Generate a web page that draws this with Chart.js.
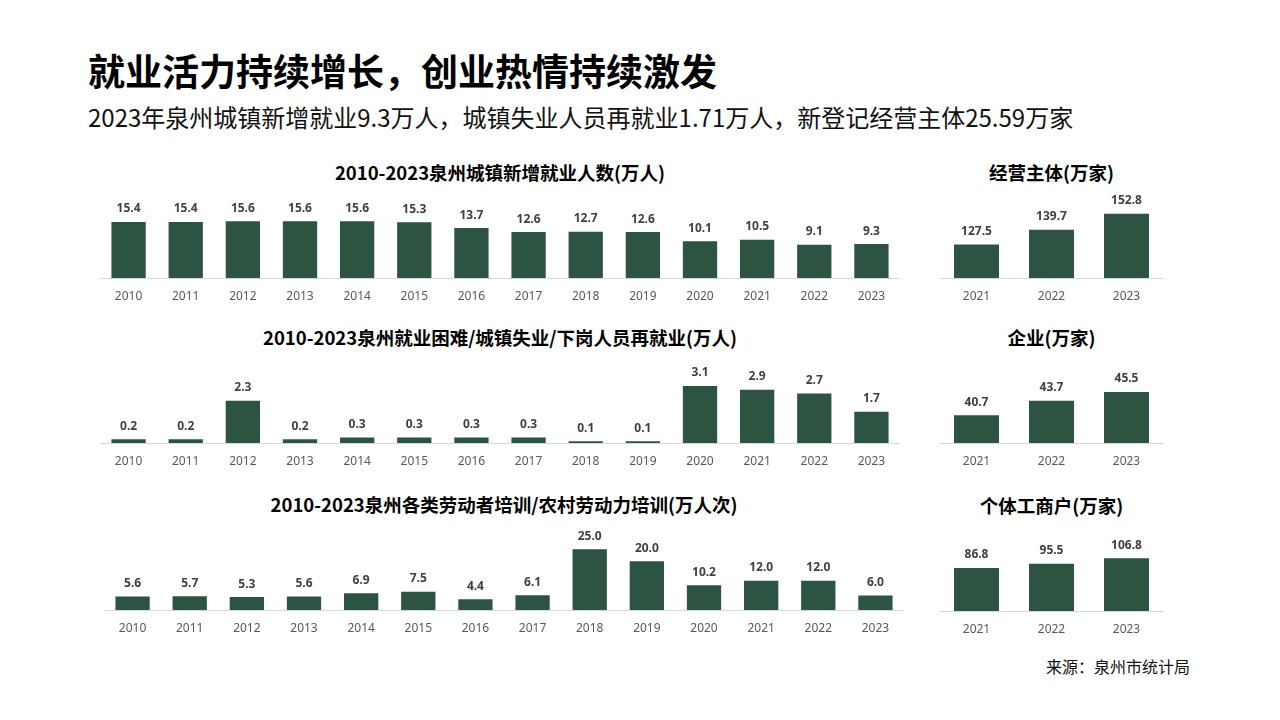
<!DOCTYPE html>
<html lang="zh-CN">

<head>
  <meta charset="UTF-8">
  <title>就业活力持续增长，创业热情持续激发</title>
  <script src="https://cdn.jsdelivr.net/npm/chart.js"></script>
  <style>
    body {
      margin: 0;
      width: 1280px;
      height: 720px;
      background: #ffffff;
      font-family: "Noto Sans CJK SC", "Noto Sans", sans-serif;
      position: relative;
      overflow: hidden;
    }

    .titulo {
      position: absolute;
      left: 88px;
      top: 48px;
      font-size: 37px;
      line-height: 44px;
      font-weight: bold;
      color: #000;
    }

    .subtitulo {
      position: absolute;
      left: 88px;
      top: 102px;
      font-size: 24px;
      line-height: 30px;
      color: #111;
    }

    .tituloGrafico {
      position: absolute;
      text-align: center;
      font-size: 18.5px;
      line-height: 24px;
      font-weight: bold;
      color: #000;
    }

    .grafico {
      position: absolute;
      height: 120px;
    }

    .fonte {
      position: absolute;
      right: 90px;
      top: 655px;
      font-size: 16px;
      line-height: 22px;
      color: #111;
    }
  </style>
</head>

<body>
  <div class="titulo">就业活力持续增长，创业热情持续激发</div>
  <div class="subtitulo">2023年泉州城镇新增就业9.3万人，城镇失业人员再就业1.71万人，新登记经营主体25.59万家</div>

  <div class="tituloGrafico" style="left:100px;top:160px;width:800px">2010-2023泉州城镇新增就业人数(万人)</div>
  <div class="grafico" style="left:100px;top:188px;width:800px"><canvas id="graficoNovos"></canvas></div>

  <div class="tituloGrafico" style="left:100px;top:325px;width:800px">2010-2023泉州就业困难/城镇失业/下岗人员再就业(万人)</div>
  <div class="grafico" style="left:100px;top:353px;width:800px"><canvas id="graficoReemprego"></canvas></div>

  <div class="tituloGrafico" style="left:104px;top:492px;width:800px">2010-2023泉州各类劳动者培训/农村劳动力培训(万人次)</div>
  <div class="grafico" style="left:104px;top:520px;width:800px"><canvas id="graficoTreino"></canvas></div>

  <div class="tituloGrafico" style="left:939px;top:160px;width:225px">经营主体(万家)</div>
  <div class="grafico" style="left:939px;top:188px;width:225px"><canvas id="graficoEntidades"></canvas></div>

  <div class="tituloGrafico" style="left:939px;top:325px;width:225px">企业(万家)</div>
  <div class="grafico" style="left:939px;top:353px;width:225px"><canvas id="graficoEmpresas"></canvas></div>

  <div class="tituloGrafico" style="left:939px;top:493px;width:225px">个体工商户(万家)</div>
  <div class="grafico" style="left:939px;top:521px;width:225px"><canvas id="graficoIndividuais"></canvas></div>

  <div class="fonte">来源：泉州市统计局</div>
</body>

</html>
<script>
  // dados
  const anos = ['2010', '2011', '2012', '2013', '2014', '2015', '2016', '2017', '2018', '2019', '2020', '2021', '2022', '2023']
  const novosEmpregos = [15.4, 15.4, 15.6, 15.6, 15.6, 15.3, 13.7, 12.6, 12.7, 12.6, 10.1, 10.5, 9.1, 9.3]
  const reemprego = [0.2, 0.2, 2.3, 0.2, 0.3, 0.3, 0.3, 0.3, 0.1, 0.1, 3.1, 2.9, 2.7, 1.7]
  const treinamento = [5.6, 5.7, 5.3, 5.6, 6.9, 7.5, 4.4, 6.1, 25.0, 20.0, 10.2, 12.0, 12.0, 6.0]

  const anosRecentes = ['2021', '2022', '2023']
  const entidades = [127.5, 139.7, 152.8]
  const empresas = [40.7, 43.7, 45.5]
  const individuais = [86.8, 95.5, 106.8]

  const corBarra = '#2d5442'
  const fonteGrafico = '"Noto Sans", "Noto Sans CJK SC", sans-serif'

  // escreve o valor em cima de cada barra
  const rotulosValor = {
    id: 'rotulosValor',
    afterDatasetsDraw(chart) {
      const ctx = chart.ctx
      const meta = chart.getDatasetMeta(0)
      const valores = chart.data.datasets[0].data
      ctx.save()
      ctx.font = 'bold 12px ' + fonteGrafico
      ctx.fillStyle = '#404040'
      ctx.textAlign = 'center'
      ctx.textBaseline = 'bottom'
      for (let i = 0; i < meta.data.length; i++) {
        const barra = meta.data[i]
        ctx.fillText(valores[i].toFixed(1), barra.x, barra.y - 7)
      }
      ctx.restore()
    }
  }

  function plotarGraficoBarras(id, legenda, dados, minimo, maximo) {
    return new Chart(document.getElementById(id), {
      type: 'bar',
      data: {
        labels: legenda,
        datasets: [{
          data: dados,
          backgroundColor: corBarra,
          barPercentage: 0.6,
          categoryPercentage: 1
        }]
      },
      options: {
        responsive: true,
        maintainAspectRatio: false,
        animation: false,
        layout: { padding: 0 },
        plugins: {
          legend: { display: false },
          tooltip: { enabled: false }
        },
        scales: {
          x: {
            grid: { display: false, drawTicks: false },
            border: { display: true, color: '#d9d9d9', width: 1 },
            ticks: {
              color: '#595959',
              padding: 11,
              font: { family: fonteGrafico, size: 12 }
            },
            afterFit: function (escala) { escala.height = 30 }
          },
          y: {
            display: false,
            min: minimo,
            max: maximo
          }
        }
      },
      plugins: [rotulosValor]
    })
  }

  plotarGraficoBarras('graficoNovos', anos, novosEmpregos, 0, 24.7)
  plotarGraficoBarras('graficoReemprego', anos, reemprego, 0, 4.9)
  plotarGraficoBarras('graficoTreino', anos, treinamento, 0, 37)
  plotarGraficoBarras('graficoEntidades', anosRecentes, entidades, 100, 174)
  plotarGraficoBarras('graficoEmpresas', anosRecentes, empresas, 35, 53.5)
  plotarGraficoBarras('graficoIndividuais', anosRecentes, individuais, 0, 182)
</script>
